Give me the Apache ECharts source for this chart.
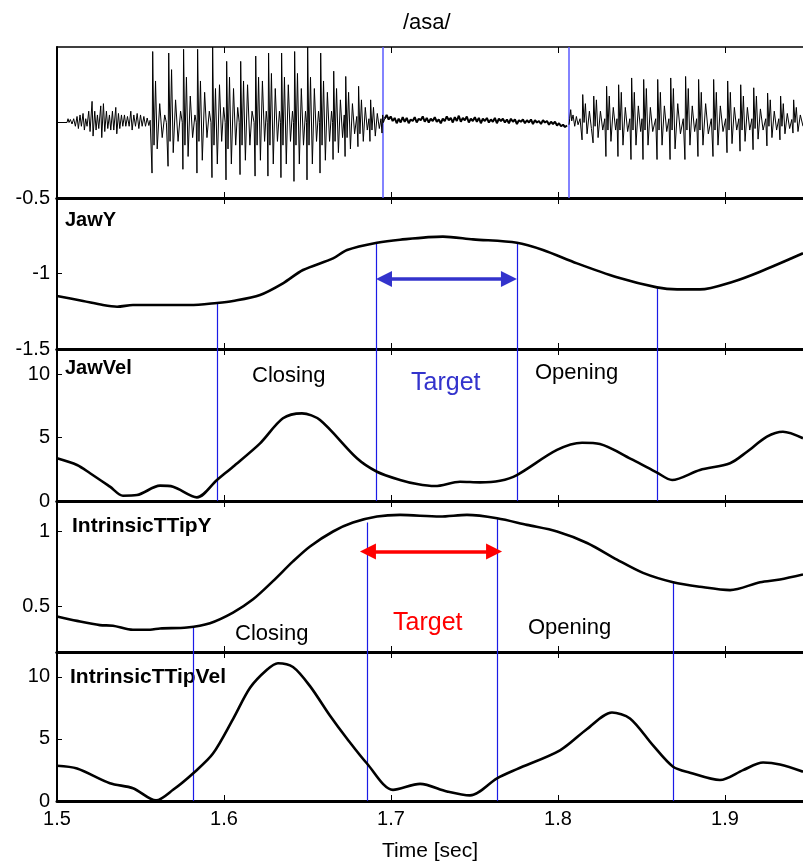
<!DOCTYPE html>
<html>
<head>
<meta charset="utf-8">
<title>/asa/</title>
<script src="https://cdn.jsdelivr.net/npm/echarts@6/dist/echarts.min.js"></script>
<style>
  html, body { margin: 0; padding: 0; background: #fff; }
  #chart { width: 803px; height: 863px; }
</style>
</head>
<body>
<div id="chart"></div>
<script>
// x axis
const xMin = 1.5, xMax = 1.9467;
const xTicks = [1.5, 1.6, 1.7, 1.8, 1.9];

// audio waveform [time, amplitude]
const audioPre = [
  [1.5,0],[1.5060,0],[1.5066,0.05],[1.5072,0.0],[1.5080,0.04],[1.5090,-0.02],[1.5100,0.05],[1.5110,-0.05],
  [1.5120,0.08],[1.5128,-0.08],[1.5138,0.10],[1.5146,-0.05],[1.5156,0.12],[1.5164,-0.10],[1.5172,0.05],
  [1.5180,-0.05],[1.5190,0.15],[1.5198,-0.12],[1.5210,0.28],[1.5216,-0.18],[1.5226,0.15],[1.5234,-0.10],
  [1.5242,0.10],[1.5250,-0.08],[1.5262,0.22],[1.5268,-0.20],[1.5278,0.25],[1.5286,-0.12],[1.5296,0.15],
  [1.5304,-0.08],[1.5314,0.10],[1.5322,-0.10],[1.5332,0.15],[1.5340,-0.10],[1.5352,0.20],[1.5358,-0.15],
  [1.5368,0.12],[1.5376,-0.08],[1.5386,0.10],[1.5394,-0.05],[1.5404,0.10],[1.5412,-0.05],[1.5422,0.08],
  [1.5432,-0.05],[1.5442,0.15],[1.5450,-0.10],[1.5460,0.10],[1.5470,-0.05],[1.5480,0.12],[1.5490,-0.08],
  [1.5500,0.10],[1.5510,-0.05],[1.5520,0.08],[1.5530,-0.05],[1.5540,0.06],[1.5550,-0.04],[1.5558,0.03],[1.5565,0.05]
];
const audioV1 = [
  [1.5569,-0.67],[1.5573,0.94],[1.5581,-0.30],[1.5590,0.55],[1.5600,-0.35],[1.5615,0.25],[1.5630,-0.20],[1.5645,0.10],[1.5655,0.0],
  [1.5665,-0.58],[1.5669,0.92],[1.5677,-0.25],[1.5686,0.70],[1.5696,-0.40],[1.5710,0.30],[1.5725,-0.25],[1.5740,0.15],[1.5750,0.0],
  [1.5754,-0.62],[1.5758,0.97],[1.5766,-0.30],[1.5775,0.60],[1.5785,-0.45],[1.5798,0.35],[1.5812,-0.20],[1.5826,0.10],[1.5834,0.0],
  [1.5838,-0.67],[1.5842,0.97],[1.5850,-0.25],[1.5859,0.55],[1.5870,-0.50],[1.5884,0.40],[1.5898,-0.20],[1.5912,0.15],[1.5922,0.0],
  [1.5928,-0.73],[1.5932,1.0],[1.5940,-0.30],[1.5949,0.45],[1.5960,-0.55],[1.5973,0.50],[1.5986,-0.25],[1.5998,0.20],[1.6007,0.0],
  [1.6012,-0.76],[1.6016,0.81],[1.6024,-0.35],[1.6033,0.60],[1.6044,-0.55],[1.6057,0.45],[1.6070,-0.30],[1.6082,0.20],[1.6091,0.0],
  [1.6096,-0.69],[1.6100,0.81],[1.6108,-0.30],[1.6117,0.55],[1.6128,-0.50],[1.6141,0.50],[1.6155,-0.30],[1.6168,0.15],[1.6180,0.0],
  [1.6186,-0.71],[1.6190,0.88],[1.6198,-0.30],[1.6207,0.60],[1.6218,-0.50],[1.6230,0.55],[1.6243,-0.25],[1.6253,0.15],[1.6259,0.0],
  [1.6263,-0.71],[1.6267,0.92],[1.6275,-0.30],[1.6284,0.65],[1.6295,-0.55],[1.6307,0.45],[1.6320,-0.25],[1.6332,0.15],[1.6338,0.0],
  [1.6341,-0.73],[1.6345,0.92],[1.6353,-0.30],[1.6362,0.60],[1.6373,-0.55],[1.6385,0.50],[1.6398,-0.25],[1.6410,0.15],[1.6416,0.0],
  [1.6419,-0.78],[1.6423,0.94],[1.6431,-0.30],[1.6440,0.65],[1.6451,-0.55],[1.6463,0.45],[1.6476,-0.30],[1.6488,0.15],[1.6494,0.0],
  [1.6497,-0.76],[1.6501,1.0],[1.6509,-0.30],[1.6518,0.60],[1.6529,-0.55],[1.6541,0.45],[1.6554,-0.25],[1.6566,0.15],[1.6572,0.0],
  [1.6575,-0.67],[1.6579,0.92],[1.6587,-0.30],[1.6596,0.55],[1.6607,-0.50],[1.6619,0.40],[1.6632,-0.25],[1.6644,0.15],[1.6650,0.0],
  [1.6653,-0.49],[1.6657,0.68],[1.6665,-0.25],[1.6674,0.45],[1.6685,-0.40],[1.6697,0.30],[1.6710,-0.20],[1.6720,0.10],
  [1.6725,-0.45],[1.6729,0.61],[1.6737,-0.20],[1.6746,0.40],[1.6757,-0.35],[1.6769,0.25],[1.6782,-0.15],[1.6795,0.08],
  [1.6802,-0.32],[1.6806,0.48],[1.6814,-0.15],[1.6823,0.30],[1.6834,-0.25],[1.6846,0.20],[1.6858,-0.10],[1.6868,0.05],
  [1.6874,-0.25],[1.6878,0.30],[1.6886,-0.10],[1.6895,0.20],[1.6906,-0.18],[1.6918,0.12],[1.6930,-0.08],[1.6940,0.05],
  [1.6946,-0.14],[1.6950,0.10],[1.6955,0.0],[1.6962,0.05]
];
// fricative noise, one sample every noiseStep seconds
const noiseStart = 1.6962, noiseStep = 0.0012;
const noiseVals = [
  0.05,0.10,0.04,0.08,0.02,0.06,-0.01,0.05,0.00,0.07,0.01,0.06,-0.01,0.04,0.02,0.07,0.00,0.05,0.03,0.08,
  0.01,0.06,0.00,0.05,0.02,0.07,0.01,0.04,-0.01,0.05,0.02,0.08,0.03,0.06,0.00,0.07,0.02,0.09,0.01,0.06,
  0.03,0.08,0.00,0.05,0.02,0.07,0.01,0.06,-0.01,0.05,0.02,0.06,0.00,0.04,0.01,0.06,-0.01,0.05,0.02,0.05,
  0.00,0.04,-0.01,0.05,0.01,0.04,-0.02,0.03,0.01,0.04,-0.01,0.03,0.00,0.04,-0.02,0.03,0.00,0.02,-0.02,0.03,
  0.00,0.02,-0.03,0.01,-0.02,0.01,-0.04,-0.01,-0.05,-0.03,-0.06,-0.04
];
const audioV2 = [
  [1.8066,-0.03],[1.8070,0.05],[1.8076,0.17],[1.8082,0.02],[1.8090,0.10],[1.8100,-0.05],[1.8110,0.08],[1.8120,-0.03],[1.8132,0.05],
  [1.8144,-0.23],[1.8148,0.37],[1.8156,0.00],[1.8164,0.25],[1.8174,-0.15],[1.8188,0.15],[1.8200,-0.08],
  [1.8210,-0.27],[1.8214,0.35],[1.8222,-0.05],[1.8230,0.30],[1.8240,-0.20],[1.8254,0.15],[1.8268,-0.10],[1.8280,0.05],
  [1.8287,-0.45],[1.8291,0.48],[1.8299,-0.10],[1.8307,0.35],[1.8317,-0.25],[1.8331,0.20],[1.8345,-0.10],[1.8353,0.05],
  [1.8359,-0.45],[1.8363,0.50],[1.8371,-0.10],[1.8379,0.40],[1.8389,-0.30],[1.8403,0.20],[1.8417,-0.12],[1.8430,0.05],
  [1.8437,-0.49],[1.8441,0.59],[1.8449,-0.10],[1.8457,0.40],[1.8467,-0.30],[1.8481,0.22],[1.8495,-0.12],[1.8503,0.05],
  [1.8509,-0.49],[1.8513,0.57],[1.8521,-0.10],[1.8529,0.45],[1.8539,-0.30],[1.8553,0.20],[1.8567,-0.12],[1.8585,0.05],
  [1.8593,-0.49],[1.8597,0.57],[1.8605,-0.10],[1.8613,0.40],[1.8623,-0.30],[1.8637,0.22],[1.8651,-0.12],[1.8664,0.05],
  [1.8671,-0.49],[1.8675,0.59],[1.8683,-0.10],[1.8691,0.45],[1.8701,-0.35],[1.8717,0.25],[1.8733,-0.15],[1.8750,0.05],
  [1.8760,-0.49],[1.8764,0.61],[1.8772,-0.10],[1.8780,0.45],[1.8790,-0.30],[1.8804,0.22],[1.8818,-0.12],[1.8830,0.05],
  [1.8838,-0.45],[1.8842,0.57],[1.8850,-0.10],[1.8858,0.40],[1.8868,-0.30],[1.8884,0.25],[1.8900,-0.15],[1.8918,0.05],
  [1.8928,-0.45],[1.8932,0.57],[1.8940,-0.10],[1.8948,0.40],[1.8958,-0.30],[1.8972,0.22],[1.8988,-0.12],[1.9004,0.05],
  [1.9012,-0.40],[1.9016,0.55],[1.9024,-0.10],[1.9032,0.40],[1.9042,-0.28],[1.9056,0.20],[1.9070,-0.10],[1.9083,0.05],
  [1.9090,-0.38],[1.9094,0.50],[1.9102,-0.10],[1.9110,0.35],[1.9120,-0.25],[1.9134,0.20],[1.9148,-0.10],[1.9161,0.05],
  [1.9168,-0.36],[1.9172,0.46],[1.9180,-0.08],[1.9188,0.35],[1.9198,-0.22],[1.9212,0.18],[1.9228,-0.10],[1.9244,0.05],
  [1.9251,-0.31],[1.9255,0.39],[1.9263,-0.05],[1.9271,0.30],[1.9281,-0.20],[1.9295,0.15],[1.9309,-0.10],[1.9322,0.05],
  [1.9329,-0.23],[1.9333,0.35],[1.9341,-0.05],[1.9349,0.25],[1.9359,-0.15],[1.9373,0.12],[1.9387,-0.08],[1.9400,0.04],
  [1.9407,-0.14],[1.9411,0.30],[1.9419,0.00],[1.9427,0.20],[1.9437,-0.12],[1.9451,0.10],[1.9467,-0.05]
];

// articulator tracks [time, value]
const jawY = [
  [1.5,-1.149],[1.5156,-1.182],[1.5275,-1.209],[1.536,-1.22],[1.5455,-1.209],[1.5600,-1.209],[1.5796,-1.209],
  [1.5958,-1.195],[1.6054,-1.182],[1.6216,-1.142],[1.6353,-1.065],[1.6473,-0.977],[1.6653,-0.90],[1.6737,-0.844],
  [1.6916,-0.796],[1.7054,-0.776],[1.7311,-0.756],[1.7491,-0.774],[1.7754,-0.796],[1.7910,-0.844],[1.8114,-0.933],
  [1.8353,-1.025],[1.8593,-1.092],[1.8713,-1.105],[1.8850,-1.105],[1.9048,-1.054],[1.9210,-0.988],[1.9467,-0.866]
];
const jawVel = [
  [1.5,3.37],[1.512,2.84],[1.5198,2.19],[1.5317,1.13],[1.5395,0.42],[1.5479,0.47],[1.5617,1.21],[1.5695,1.13],
  [1.5838,0.29],[1.5958,1.66],[1.6054,2.71],[1.6216,4.55],[1.6353,6.53],[1.6467,6.92],[1.6575,6.39],[1.6796,3.37],
  [1.6916,2.31],[1.7054,1.66],[1.7156,1.34],[1.7263,1.18],[1.7413,1.52],[1.7533,1.47],[1.7653,1.60],[1.7754,2.05],
  [1.7994,4.03],[1.8144,4.6],[1.8251,4.5],[1.8449,3.24],[1.8593,2.24],[1.8683,1.66],[1.8850,2.45],[1.9030,2.98],
  [1.9132,3.89],[1.9251,5.08],[1.9347,5.47],[1.9467,4.95]
];
const ttipY = [
  [1.5,0.435],[1.512,0.406],[1.5257,0.378],[1.5335,0.374],[1.5455,0.347],[1.5557,0.347],[1.5617,0.356],[1.5778,0.362],
  [1.5916,0.391],[1.6054,0.461],[1.6174,0.549],[1.6293,0.669],[1.6413,0.80],[1.6515,0.899],[1.6653,0.998],[1.6772,1.057],
  [1.6916,1.097],[1.7054,1.108],[1.7293,1.097],[1.7455,1.108],[1.7635,1.086],[1.7814,1.042],[1.7994,0.998],[1.8174,0.922],
  [1.8353,0.812],[1.8509,0.724],[1.8689,0.662],[1.8850,0.632],[1.9030,0.610],[1.9210,0.662],[1.9329,0.680],[1.9467,0.713]
];
const ttipVel = [
  [1.5,2.84],[1.512,2.62],[1.5317,1.43],[1.5455,1.03],[1.5593,0.05],[1.5695,0.9],[1.5826,2.36],[1.5934,3.82],
  [1.6054,6.6],[1.6156,9.12],[1.6257,10.57],[1.6323,11.1],[1.6413,10.79],[1.6515,9.25],[1.6635,6.86],[1.6737,5.01],
  [1.6856,3.02],[1.7012,0.9],[1.7174,1.38],[1.7335,0.77],[1.7473,0.45],[1.7635,1.83],[1.7754,2.57],[1.8012,4.08],
  [1.8174,5.8],[1.8323,7.13],[1.8431,6.65],[1.8569,4.48],[1.8689,2.76],[1.8790,2.28],[1.8970,1.69],[1.9108,2.49],
  [1.9228,3.1],[1.9329,2.94],[1.9467,2.36]
];

// segment boundaries
const audioMarks = [1.6952, 1.8066];
const jawMarkT = [1.5958, 1.6910, 1.7754, 1.8593];
const jawMarkTop = [-1.197, -0.80, -0.80, -1.092];
const ttipMarkT = [1.5814, 1.6856, 1.7635, 1.8689];
const ttipMarkTop = [0.362, 1.057, 1.086, 0.669];
const jawArrow = [1.6958, 1.7706], jawArrowY = -1.036;
const ttipArrow = [1.6862, 1.7617], ttipArrowY = 0.866;

// panel y ranges / labels
const yRanges = [[-1, 1], [-1.5, -0.5], [0, 12], [0.2, 1.2], [0, 12]];
const yLabels = [[], [-1.5, -1, -0.5], [0, 5, 10], [0.5, 1], [0, 5, 10]];

const FONT = 'Liberation Sans, Arial, Helvetica, sans-serif';
const tops = [47, 198, 349, 501, 652];
const heights = [151, 151, 152, 151, 151];

const chart = echarts.init(document.getElementById('chart'));

const grids = [], xAxes = [], yAxes = [];
for (let i = 0; i < 5; i++) {
  grids.push({ left: 57, right: 0, top: tops[i], height: heights[i] });
  // bottom axis
  xAxes.push({
    gridIndex: i, type: 'value', min: xMin, max: xMax, position: 'bottom',
    axisLine: { show: true, onZero: false, lineStyle: { color: '#000', width: 3 } },
    axisTick: { show: true, inside: true, length: 6, customValues: xTicks.slice(1), lineStyle: { color: '#000', width: 1 } },
    axisLabel: {
      show: i === 4, customValues: xTicks, formatter: v => v.toFixed(1),
      color: '#000', fontSize: 20, fontFamily: FONT, margin: 8
    },
    splitLine: { show: false },
    name: i === 4 ? 'Time [sec]' : '', nameLocation: 'middle', nameGap: 40,
    nameTextStyle: { color: '#000', fontSize: 21, fontFamily: FONT }
  });
  // top axis
  xAxes.push({
    gridIndex: i, type: 'value', min: xMin, max: xMax, position: 'top',
    axisLine: { show: true, onZero: false, lineStyle: { color: '#000', width: i === 0 ? 1.5 : 3 } },
    axisTick: { show: true, inside: true, length: 6, customValues: xTicks.slice(1), lineStyle: { color: '#000', width: 1 } },
    axisLabel: { show: false },
    splitLine: { show: false }
  });
  yAxes.push({
    gridIndex: i, type: 'value', min: yRanges[i][0], max: yRanges[i][1],
    axisLine: { show: true, onZero: false, lineStyle: { color: '#000', width: 2 } },
    axisTick: { show: yLabels[i].length > 0, inside: true, length: 5, customValues: yLabels[i], lineStyle: { color: '#000', width: 1 } },
    axisLabel: { show: yLabels[i].length > 0, customValues: yLabels[i], color: '#000', fontSize: 20, fontFamily: FONT, margin: 7 },
    splitLine: { show: false }
  });
}

const curve = (i, data) => ({
  type: 'line', xAxisIndex: 2 * i, yAxisIndex: i, data: data,
  showSymbol: false, smooth: 0.3, silent: true,
  lineStyle: { color: '#000', width: 2.6 }
});

const segLines = (i, times, topsV, color, width) => ({
  type: 'lines', coordinateSystem: 'cartesian2d', xAxisIndex: 2 * i, yAxisIndex: i, silent: true,
  lineStyle: { color: color, width: width, opacity: 1, curveness: 0 },
  data: times.map((t, k) => ({ coords: [[t, topsV ? topsV[k] : yRanges[i][1]], [t, yRanges[i][0]]] }))
});

const arrow = (i, ends, y, color) => ({
  type: 'lines', coordinateSystem: 'cartesian2d', xAxisIndex: 2 * i, yAxisIndex: i, silent: true,
  symbol: ['triangle', 'triangle'], symbolSize: 16,
  lineStyle: { color: color, width: 3.5, opacity: 1, curveness: 0 },
  data: [{ coords: [[ends[0], y], [ends[1], y]] }]
});

const noise = noiseVals.map((v, k) => [noiseStart + k * noiseStep, v]);

const series = [
  { type: 'line', xAxisIndex: 0, yAxisIndex: 0, data: audioPre.concat(audioV1), showSymbol: false, silent: true,
    lineStyle: { color: '#000', width: 1 } },
  { type: 'line', xAxisIndex: 0, yAxisIndex: 0, data: noise, showSymbol: false, silent: true,
    lineStyle: { color: '#000', width: 2 } },
  { type: 'line', xAxisIndex: 0, yAxisIndex: 0, data: audioV2, showSymbol: false, silent: true,
    lineStyle: { color: '#000', width: 1 } },
  segLines(0, audioMarks, null, '#5a5aff', 1.5),
  segLines(1, jawMarkT, jawMarkTop, '#1a1ae6', 1.2),
  segLines(2, jawMarkT, null, '#1a1ae6', 1.2),
  segLines(3, ttipMarkT, ttipMarkTop, '#1a1ae6', 1.2),
  segLines(4, ttipMarkT, null, '#1a1ae6', 1.2),
  arrow(1, jawArrow, jawArrowY, '#3333cc'),
  arrow(3, ttipArrow, ttipArrowY, '#ff0000'),
  curve(1, jawY),
  curve(2, jawVel),
  curve(3, ttipY),
  curve(4, ttipVel)
];

const txt = (text, x, y, font, fill) => ({
  type: 'text', x: x, y: y, silent: true,
  style: { text: text, font: font + ' ' + FONT, fill: fill || '#000', verticalAlign: 'middle' }
});

const graphic = [
  txt('JawY', 65, 220, 'bold 20px'),
  txt('JawVel', 65, 368, 'bold 20px'),
  txt('IntrinsicTTipY', 72, 526, 'bold 21px'),
  txt('IntrinsicTTipVel', 70, 677, 'bold 21px'),
  txt('Closing', 252, 376, '22px'),
  txt('Target', 411, 383, '25px', '#3333cc'),
  txt('Opening', 535, 373, '22px'),
  txt('Closing', 235, 634, '22px'),
  txt('Target', 393, 623, '25px', '#ff0000'),
  txt('Opening', 528, 628, '22px')
];

chart.setOption({
  animation: false,
  backgroundColor: '#fff',
  title: {
    text: '/asa/', left: 398, top: 7,
    textStyle: { color: '#000', fontSize: 22, fontWeight: 'normal', fontFamily: FONT }
  },
  grid: grids,
  xAxis: xAxes,
  yAxis: yAxes,
  series: series,
  graphic: graphic
});
</script>
</body>
</html>
